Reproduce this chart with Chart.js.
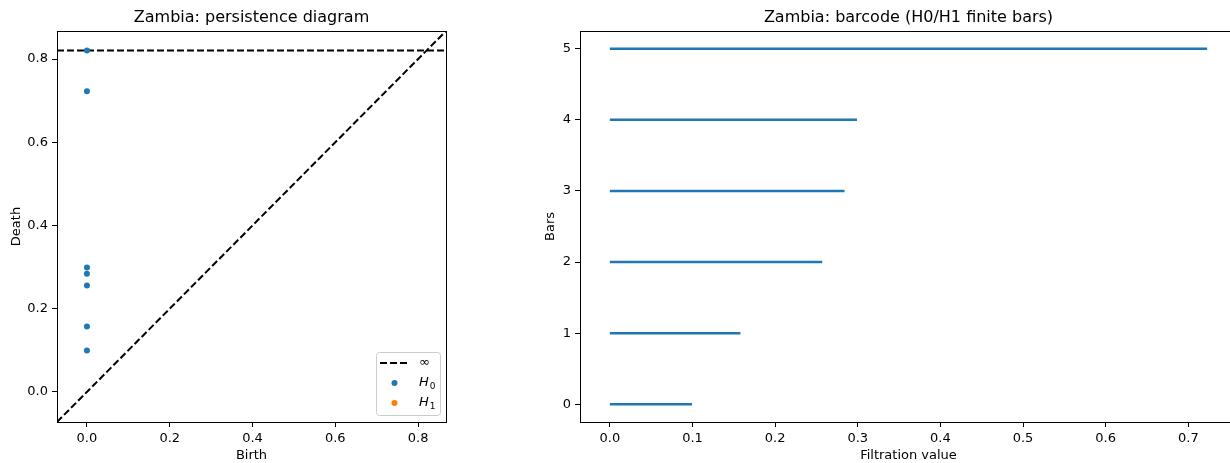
<!DOCTYPE html>
<html>
<head>
<meta charset="utf-8">
<script src="https://cdn.jsdelivr.net/npm/chart.js@4.4.1/dist/chart.umd.min.js"></script>
<style>
    html, body { margin: 0; padding: 0; background: #fff; overflow: hidden; width: 1230px; height: 463px; }
    #diagramBox { position: absolute; left: 0; top: 0; }
    #barcodeBox { position: absolute; left: 530px; top: 0; }
</style>
</head>
<body>
<div id="diagramBox"><canvas id="diagramChart" width="460" height="463"></canvas></div>
<div id="barcodeBox"><canvas id="barcodeChart" width="720" height="463"></canvas></div>
<script>
// 持续图数据（H0，全部出生于0）
const h0Births = [0, 0, 0, 0, 0, 0, 0];
const h0Deaths = [0.0995, 0.157, 0.256, 0.284, 0.299, 0.7228, Infinity];
const h1Births = [];
const h1Deaths = [];

// 持续图坐标范围与刻度
const diagramRange = [-0.0723, 0.8674];
const diagramTicks = [0, 0.2, 0.4, 0.6, 0.8];
const diagramTickLabels = ['0.0', '0.2', '0.4', '0.6', '0.8'];

// 条形码数据（有限条）
const barBirths = [0, 0, 0, 0, 0, 0];
const barDeaths = [0.0995, 0.158, 0.257, 0.284, 0.299, 0.7228];
const barIndexTicks = [0, 1, 2, 3, 4, 5];
const barValueTicks = [0, 0.1, 0.2, 0.3, 0.4, 0.5, 0.6, 0.7];
const barValueTickLabels = ['0.0', '0.1', '0.2', '0.3', '0.4', '0.5', '0.6', '0.7'];
const barXRange = [-0.0361, 0.7589];
const barYRange = [-0.25, 5.25];

const BLUE = '#1f77b4';
const ORANGE = '#ff7f0e';

Chart.defaults.font.family = '"DejaVu Sans", sans-serif';
Chart.defaults.font.size = 13;
Chart.defaults.color = '#000';

// 无穷点所在的高度
const infLevel = diagramRange[0] + (diagramRange[1] - diagramRange[0]) * 0.95;

// 四周边框
const framePlugin = {
    id: 'frame',
    afterDatasetsDraw(chart) {
        const a = chart.chartArea;
        const ctx = chart.ctx;
        ctx.save();
        ctx.strokeStyle = '#000';
        ctx.lineWidth = 1;
        ctx.strokeRect(Math.round(a.left) + 0.5, Math.round(a.top) + 0.5,
            Math.round(a.right - a.left), Math.round(a.bottom - a.top));
        ctx.restore();
    }
};

// 画图例文字（H0/H1 用斜体加下标）
function drawLegendText(ctx, label, x, y) {
    const m = /^H(\d)$/.exec(label);
    if (!m) {
        ctx.font = '13px "DejaVu Sans"';
        ctx.fillText(label, x, y);
        return;
    }
    ctx.font = 'italic 13px "DejaVu Sans"';
    ctx.fillText('H', x, y);
    const w = ctx.measureText('H').width;
    ctx.font = '9px "DejaVu Sans"';
    ctx.fillText(m[1], x + w + 1, y + 3.5);
}

// 图例（右下角，图内）
const diagramLegend = {
    id: 'diagramLegend',
    afterDraw(chart) {
        const a = chart.chartArea;
        const ctx = chart.ctx;
        const w = 64, h = 63;
        const x0 = a.right - 6 - w;
        const y0 = a.bottom - 7 - h;
        ctx.save();
        ctx.beginPath();
        ctx.roundRect(x0 + 0.5, y0 + 0.5, w, h, 3);
        ctx.fillStyle = 'rgba(255,255,255,0.8)';
        ctx.fill();
        ctx.strokeStyle = '#cccccc';
        ctx.lineWidth = 1;
        ctx.stroke();

        const entries = chart.data.datasets.filter(d => d.legendRow !== undefined)
            .sort((p, q) => p.legendRow - q.legendRow);
        ctx.textBaseline = 'middle';
        ctx.fillStyle = '#000';
        entries.forEach((d, i) => {
            const ry = y0 + 11 + i * 20;
            if (d.showLine) {
                ctx.beginPath();
                ctx.setLineDash(d.borderDash || []);
                ctx.strokeStyle = d.borderColor;
                ctx.lineWidth = d.borderWidth;
                ctx.moveTo(x0 + 4, ry);
                ctx.lineTo(x0 + 33, ry);
                ctx.stroke();
                ctx.setLineDash([]);
            } else {
                ctx.beginPath();
                ctx.fillStyle = d.backgroundColor;
                ctx.arc(x0 + 18.5, ry, 3, 0, Math.PI * 2);
                ctx.fill();
            }
            ctx.fillStyle = '#000';
            drawLegendText(ctx, d.label, x0 + 43, ry);
        });
        ctx.restore();
    }
};

function makeAxis(range, ticks, tickLabels, title, size, titlePad, isX) {
    return {
        type: 'linear',
        min: range[0],
        max: range[1],
        afterBuildTicks(scale) {
            scale.ticks = ticks.map(v => ({ value: v }));
        },
        afterFit(scale) {
            if (isX) scale.height = size; else scale.width = size;
        },
        ticks: {
            padding: 4,
            maxRotation: 0,
            color: '#000',
            callback: (v) => {
                const i = ticks.indexOf(v);
                return i >= 0 ? tickLabels[i] : '';
            }
        },
        grid: {
            drawOnChartArea: false,
            drawTicks: true,
            tickLength: 5,
            tickColor: '#000',
            tickWidth: 1
        },
        border: { display: true, color: '#000', width: 1 },
        title: {
            display: true,
            text: title,
            color: '#000',
            font: { size: 13 },
            padding: isX ? { top: 0, bottom: 0 } : { top: titlePad, bottom: 0 }
        }
    };
}

function titleOptions(text) {
    return {
        display: true,
        text: text,
        fullSize: false,
        color: '#000',
        font: { size: 16, weight: 'normal' },
        padding: { top: 8, bottom: 3.8 }
    };
}

// 持续图
function createDiagramChart() {
    const ctx = document.getElementById('diagramChart').getContext('2d');
    const h0Points = h0Births.map((b, i) => ({ x: b, y: isFinite(h0Deaths[i]) ? h0Deaths[i] : infLevel }));
    const h1Points = h1Births.map((b, i) => ({ x: b, y: isFinite(h1Deaths[i]) ? h1Deaths[i] : infLevel }));

    new Chart(ctx, {
        type: 'scatter',
        data: {
            datasets: [
                {
                    label: 'H0', legendRow: 1, data: h0Points,
                    backgroundColor: BLUE, borderColor: BLUE, pointRadius: 3, pointBorderWidth: 0
                },
                {
                    label: 'H1', legendRow: 2, data: h1Points,
                    backgroundColor: ORANGE, borderColor: ORANGE, pointRadius: 3, pointBorderWidth: 0
                },
                {
                    label: '∞', legendRow: 0, showLine: true,
                    data: [{ x: diagramRange[0], y: infLevel }, { x: diagramRange[1], y: infLevel }],
                    borderColor: '#000', borderWidth: 2, borderDash: [7, 3], pointRadius: 0
                },
                {
                    label: 'diagonal', showLine: true,
                    data: [{ x: diagramRange[0], y: diagramRange[0] }, { x: diagramRange[1], y: diagramRange[1] }],
                    borderColor: '#000', borderWidth: 2, borderDash: [7, 3], pointRadius: 0
                }
            ]
        },
        options: {
            responsive: false,
            animation: false,
            devicePixelRatio: 1,
            layout: { padding: { left: 0, right: 14, top: 0, bottom: 0 }, autoPadding: false },
            scales: {
                x: makeAxis(diagramRange, diagramTicks, diagramTickLabels, 'Birth', 41, 0, true),
                y: makeAxis(diagramRange, diagramTicks, diagramTickLabels, 'Death', 57, 9, false)
            },
            plugins: {
                legend: { display: false },
                tooltip: { enabled: false },
                title: titleOptions('Zambia: persistence diagram')
            }
        },
        plugins: [framePlugin, diagramLegend]
    });
}

// 条形码
function createBarcodeChart() {
    const ctx = document.getElementById('barcodeChart').getContext('2d');
    const datasets = barDeaths.map((d, i) => ({
        label: 'bar ' + i,
        showLine: true,
        data: [{ x: barBirths[i], y: i }, { x: d, y: i }],
        borderColor: BLUE,
        borderWidth: 2.5,
        pointRadius: 0
    }));

    new Chart(ctx, {
        type: 'scatter',
        data: { datasets: datasets },
        options: {
            responsive: false,
            animation: false,
            devicePixelRatio: 1,
            layout: { padding: { left: 0, right: 13, top: 0, bottom: 0 }, autoPadding: false },
            scales: {
                x: makeAxis(barXRange, barValueTicks, barValueTickLabels, 'Filtration value', 41, 0, true),
                y: makeAxis(barYRange, barIndexTicks, barIndexTicks.map(String), 'Bars', 50, 13, false)
            },
            plugins: {
                legend: { display: false },
                tooltip: { enabled: false },
                title: titleOptions('Zambia: barcode (H0/H1 finite bars)')
            }
        },
        plugins: [framePlugin]
    });
}

window.addEventListener('DOMContentLoaded', function() {
    createDiagramChart();
    createBarcodeChart();
});
</script>
</body>
</html>
